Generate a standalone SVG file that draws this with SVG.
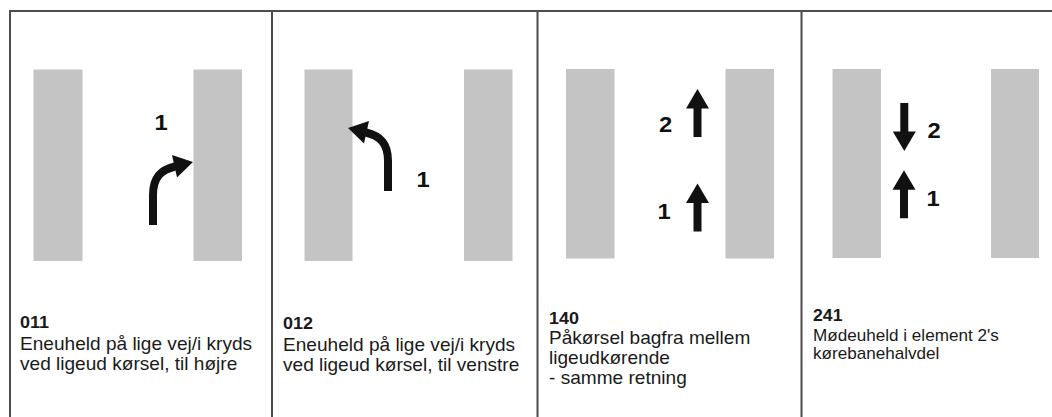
<svg xmlns="http://www.w3.org/2000/svg" xmlns:xlink="http://www.w3.org/1999/xlink" width="1052" height="417" viewBox="0 0 1052 417">
  <style>
    .frame { stroke: #4d4d4d; stroke-width: 2; fill: none; }
    .road { fill: #c4c4c4; }
    .num { font-family: "Liberation Sans", Arial, sans-serif; font-weight: bold; font-size: 16.5px; fill: #1a1a1a; }
    .cap { font-family: "Liberation Sans", Arial, sans-serif; font-size: 17.5px; fill: #1a1a1a; }
    .cap.small { font-size: 16px; }
    .lbl { font-family: "Liberation Sans", Arial, sans-serif; font-weight: bold; font-size: 22px; fill: #111; text-anchor: middle; }
    .turn { fill: none; stroke: #111; stroke-width: 8; }
    .head { fill: #111; }
  </style>
  <defs>
    <!-- straight arrow, origin at the tip, pointing up -->
    <polygon id="up" class="head" points="0,0 11.5,19.5 4,19.5 4,48 -4,48 -4,19.5 -11.5,19.5"/>
    <!-- turning arrow, origin at the bottom of the shaft, bending right -->
    <g id="turn">
      <path class="turn" d="M0,0 L0,-30 C0,-48 8,-55 22,-58.5"/>
      <polygon class="head" points="40,-63 19,-70 24,-47.5"/>
    </g>
  </defs>

  <!-- outer frame and column dividers -->
  <g id="frame">
    <path class="frame" d="M10,417 V11 H1052"/>
    <line class="frame" x1="272" y1="11" x2="272" y2="417"/>
    <line class="frame" x1="537.5" y1="11" x2="537.5" y2="417"/>
    <line class="frame" x1="801.5" y1="11" x2="801.5" y2="417"/>
  </g>

  <!-- 011 -->
  <g id="case-011">
    <rect class="road" x="33.5" y="69.5" width="49" height="191.5"/>
    <rect class="road" x="193.5" y="69.5" width="48.5" height="191.5"/>
    <text class="lbl" transform="translate(161,130) scale(1.08,1)">1</text>
    <use xlink:href="#turn" transform="translate(153,225)"/>
    <g transform="translate(20,0) scale(1.09,1)">
      <text class="num" x="0" y="328">011</text>
      <text class="cap" x="0" y="350">Eneuheld på lige vej/i kryds</text>
      <text class="cap" x="0" y="370">ved ligeud kørsel, til højre</text>
    </g>
  </g>

  <!-- 012 -->
  <g id="case-012">
    <rect class="road" x="304.5" y="69.5" width="48" height="191.5"/>
    <rect class="road" x="464" y="69.5" width="48.5" height="191.5"/>
    <text class="lbl" transform="translate(423,187) scale(1.08,1)">1</text>
    <use xlink:href="#turn" transform="translate(388,191) scale(-1,1)"/>
    <g transform="translate(283,0) scale(1.09,1)">
      <text class="num" x="0" y="329">012</text>
      <text class="cap" x="0" y="351">Eneuheld på lige vej/i kryds</text>
      <text class="cap" x="0" y="371">ved ligeud kørsel, til venstre</text>
    </g>
  </g>

  <!-- 140 -->
  <g id="case-140">
    <rect class="road" x="566" y="69" width="48.5" height="189.5"/>
    <rect class="road" x="725.5" y="69" width="48.5" height="189.5"/>
    <text class="lbl" transform="translate(665.5,131.5) scale(1.08,1)">2</text>
    <use xlink:href="#up" transform="translate(697.5,89)"/>
    <text class="lbl" transform="translate(664,219) scale(1.08,1)">1</text>
    <use xlink:href="#up" transform="translate(697.5,183.5)"/>
    <g transform="translate(549,0) scale(1.09,1)">
      <text class="num" x="0" y="324">140</text>
      <text class="cap" x="0" y="344">Påkørsel bagfra mellem</text>
      <text class="cap" x="0" y="364">ligeudkørende</text>
      <text class="cap" x="0" y="384">- samme retning</text>
    </g>
  </g>

  <!-- 241 -->
  <g id="case-241">
    <rect class="road" x="832.5" y="69" width="48.5" height="189"/>
    <rect class="road" x="991" y="69" width="48" height="189"/>
    <use xlink:href="#up" transform="translate(904.3,151) rotate(180)"/>
    <text class="lbl" transform="translate(934,137.5) scale(1.08,1)">2</text>
    <use xlink:href="#up" transform="translate(904,170.3)"/>
    <text class="lbl" transform="translate(933,205.5) scale(1.08,1)">1</text>
    <g transform="translate(813,0) scale(1.07,1)">
      <text class="num" x="0" y="321">241</text>
      <text class="cap small" x="0" y="341">Mødeuheld i element 2's</text>
      <text class="cap small" x="0" y="359">kørebanehalvdel</text>
    </g>
  </g>
</svg>
